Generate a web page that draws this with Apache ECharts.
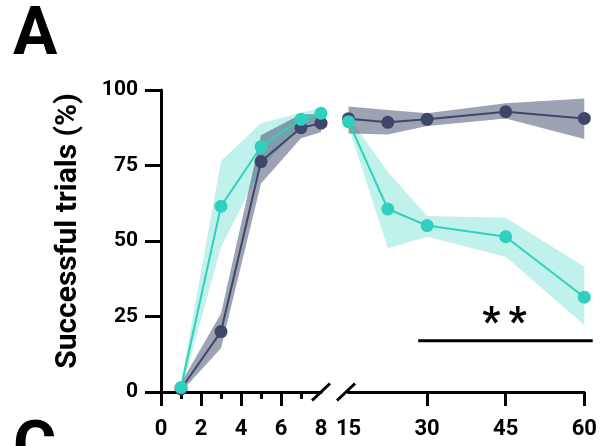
<!DOCTYPE html>
<html>
<head>
<meta charset="utf-8">
<script src="https://cdn.jsdelivr.net/npm/echarts@6/dist/echarts.min.js"></script>
<style>
  html, body { margin: 0; padding: 0; background: #fff; }
  #chart { width: 601px; height: 446px; }
</style>
</head>
<body>
<div id="chart"></div>
<script>
// Early sessions (left panel)
var earlyX = [1, 3, 5, 7, 8];
var earlyDark = [1, 20, 76.3, 87.5, 89];
var earlyDarkLo = [0, 14.5, 69, 84, 86];
var earlyDarkHi = [3, 26, 85, 92, 92];
var earlyTeal = [1.5, 61.5, 81.2, 90.3, 92.3];
var earlyTealLo = [0, 48, 74, 88, 90];
var earlyTealHi = [3, 76.5, 89, 92.5, 94];

// Late sessions (right panel)
var lateX = [15, 22.5, 30, 45, 60];
var lateDark = [90.5, 89.3, 90.3, 92.8, 90.6];
var lateDarkLo = [85.6, 85.3, 88.1, 90.6, 83.8];
var lateDarkHi = [94.5, 93.4, 92.3, 95.6, 97.2];
var lateTeal = [89.5, 60.6, 55.1, 51.4, 31.4];
var lateTealLo = [88, 47.6, 51.4, 44.8, 22.2];
var lateTealHi = [91, 72.9, 58.3, 57.7, 41.5];

// Significance bracket
var sigSpan = [28.3, 61.6];
var sigLevel = 17;
var sigText = '*\u2009*';

var yTicks = [0, 25, 50, 75, 100];
var earlyTickLabels = [0, 2, 4, 6, 8];
var lateTickLabels = [15, 30, 45, 60];

var DARK = '#3e4769';
var TEAL = '#30d0be';
var DARK_BAND = 'rgba(62,71,105,0.5)';
var TEAL_BAND = 'rgba(48,208,190,0.3)';
var FONT = 'Roboto';

function pairs(xs, ys) {
  return xs.map(function (x, i) { return [x, ys[i]]; });
}

// Shaded error band: one polygon running along the upper bound and back along the lower bound
function band(grid, xs, lo, hi, color) {
  return {
    type: 'custom', xAxisIndex: grid, yAxisIndex: grid, silent: true, z: 1,
    data: [[xs[0], lo[0]]],
    renderItem: function (params, api) {
      var pts = [];
      for (var i = 0; i < xs.length; i++) pts.push(api.coord([xs[i], hi[i]]));
      for (var j = xs.length - 1; j >= 0; j--) pts.push(api.coord([xs[j], lo[j]]));
      return { type: 'polygon', shape: { points: pts }, style: { fill: color } };
    }
  };
}

function meanLine(grid, xs, ys, color, z) {
  return {
    type: 'line', xAxisIndex: grid, yAxisIndex: grid,
    data: pairs(xs, ys), symbol: 'circle', symbolSize: 13,
    itemStyle: { color: color }, lineStyle: { color: color, width: 2 },
    z: z
  };
}

// Horizontal significance bar, drawn through the panel's own scale
var sigBar = {
  type: 'custom', xAxisIndex: 1, yAxisIndex: 1, silent: true, z: 5, clip: false,
  data: [[sigSpan[0], sigLevel]],
  renderItem: function (params, api) {
    var a = api.coord([sigSpan[0], sigLevel]);
    var b = api.coord([sigSpan[1], sigLevel]);
    return {
      type: 'group',
      children: [
        { type: 'line', shape: { x1: a[0], y1: a[1], x2: b[0], y2: b[1] },
          style: { stroke: '#000', lineWidth: 3 } },
        { type: 'text', x: (a[0] + b[0]) / 2 - 1, y: a[1] - 16,
          style: { text: sigText, fill: '#000', font: 'bold 40px ' + FONT,
                   align: 'center', verticalAlign: 'middle' } }
      ]
    };
  }
};

var tickLabelStyle = { color: '#000', fontFamily: FONT, fontWeight: 'bold', fontSize: 22 };

var series = [
  band(0, earlyX, earlyTealLo, earlyTealHi, TEAL_BAND),
  band(0, earlyX, earlyDarkLo, earlyDarkHi, DARK_BAND),
  band(1, lateX, lateTealLo, lateTealHi, TEAL_BAND),
  band(1, lateX, lateDarkLo, lateDarkHi, DARK_BAND),
  meanLine(0, earlyX, earlyDark, DARK, 3),
  meanLine(0, earlyX, earlyTeal, TEAL, 4),
  meanLine(1, lateX, lateDark, DARK, 3),
  meanLine(1, lateX, lateTeal, TEAL, 4),
  sigBar
];

var option = {
  animation: false,
  backgroundColor: '#fff',
  grid: [
    { left: 161, top: 90, width: 160, height: 302 },
    { left: 348.5, top: 90, width: 235.8, height: 302 }
  ],
  xAxis: [
    {
      type: 'value', gridIndex: 0, min: 0, max: 8, interval: 2,
      axisLine: { show: true, onZero: false, lineStyle: { color: '#000', width: 3 } },
      axisTick: { show: true, length: 14, lineStyle: { width: 3, color: '#000' },
                  customValues: [0, 2, 4, 6] },
      minorTick: { show: true, splitNumber: 2, length: 7, lineStyle: { width: 3, color: '#000' } },
      axisLabel: Object.assign({ margin: 26, customValues: earlyTickLabels }, tickLabelStyle),
      splitLine: { show: false }
    },
    {
      type: 'value', gridIndex: 1, min: 15, max: 60, interval: 15,
      axisLine: { show: true, onZero: false, lineStyle: { color: '#000', width: 3 } },
      axisTick: { show: true, length: 14, lineStyle: { width: 3, color: '#000' },
                  customValues: [30, 45, 60] },
      axisLabel: Object.assign({ margin: 26, customValues: lateTickLabels }, tickLabelStyle),
      splitLine: { show: false }
    }
  ],
  yAxis: [
    {
      type: 'value', gridIndex: 0, min: 0, max: 100, interval: 25,
      name: 'Successful trials (%)', nameLocation: 'middle', nameGap: 78,
      nameTextStyle: { color: '#000', fontFamily: FONT, fontWeight: 'bold', fontSize: 30,
                       padding: [0, 0, 0, 20] },
      axisLine: { show: true, lineStyle: { color: '#000', width: 3 } },
      axisTick: { show: true, length: 16, lineStyle: { width: 3, color: '#000' } },
      axisLabel: Object.assign({ margin: 23, customValues: yTicks }, tickLabelStyle, { fontSize: 21 }),
      splitLine: { show: false }
    },
    {
      type: 'value', gridIndex: 1, min: 0, max: 100, interval: 25, show: false,
      splitLine: { show: false }
    }
  ],
  series: series
};

var chart = echarts.init(document.getElementById('chart'), null, { renderer: 'canvas' });
chart.setOption(option);

// Axis-break slashes and panel letters, placed from axis coordinates
var leftEnd = chart.convertToPixel({ gridIndex: 0 }, [8, 0]);
var rightStart = chart.convertToPixel({ gridIndex: 1 }, [15, 0]);

function slash(cx, cy) {
  return {
    type: 'line', shape: { x1: cx - 9, y1: cy + 8.5, x2: cx + 9, y2: cy - 8.5 },
    style: { stroke: '#000', lineWidth: 3 }, z: 10
  };
}

chart.setOption({
  graphic: [
    slash(leftEnd[0], leftEnd[1]),
    slash(rightStart[0] - 2.5, rightStart[1]),
    {
      type: 'text', left: 13, top: 4, z: 10,
      style: { text: 'A', fill: '#000', font: 'bold 66px ' + FONT }
    },
    {
      type: 'text', left: 13, top: 418, z: 10,
      style: { text: 'C', fill: '#000', font: 'bold 66px ' + FONT }
    }
  ]
});
</script>
</body>
</html>
